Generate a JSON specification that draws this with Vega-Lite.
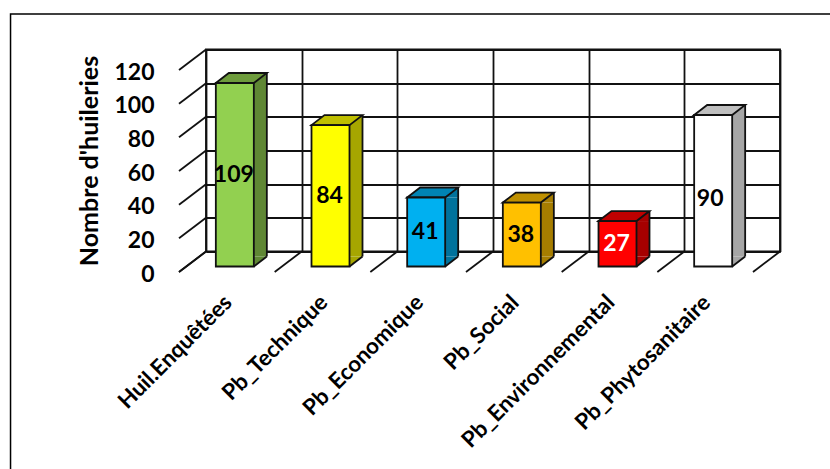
{
  "$schema": "https://vega.github.io/schema/vega-lite/v6.json",
  "autosize": {"type": "none"},
  "padding": {"left": 206, "top": 49.5, "right": 50, "bottom": 217.5},
  "width": 574,
  "height": 202,
  "background": "white",
  "config": {
    "view": {"stroke": "#111", "strokeWidth": 1.8},
    "font": "Lato"
  },
  "data": {
    "values": [
      {"cat": "Huil.Enquêtées", "n": 109},
      {"cat": "Pb_Technique", "n": 84},
      {"cat": "Pb_Economique", "n": 41},
      {"cat": "Pb_Social", "n": 38},
      {"cat": "Pb_Environnemental", "n": 27},
      {"cat": "Pb_Phytosanitaire", "n": 90}
    ]
  },
  "encoding": {
    "x": {
      "field": "cat",
      "type": "nominal",
      "sort": null,
      "title": null,
      "scale": {"paddingInner": 0, "paddingOuter": 0},
      "axis": {
        "tickBand": "extent",
        "grid": true,
        "gridColor": "#111",
        "gridWidth": 1.8,
        "ticks": false,
        "domain": false,
        "labelAngle": -45,
        "labelAlign": "right",
        "labelBaseline": "middle",
        "labelFont": "Lato",
        "labelFontWeight": "bold",
        "labelFontSize": 22.3,
        "labelColor": "#000",
        "labelPadding": 47,
        "labelOffset": -26,
        "labelLimit": 300,
        "labelOverlap": false
      }
    }
  },
  "layer": [
    {
      "encoding": {
        "y": {
          "field": "n",
          "type": "quantitative",
          "scale": {"domain": [0, 120], "nice": false},
          "title": "Nombre d'huileries",
          "axis": {
            "values": [0, 20, 40, 60, 80, 100, 120],
            "grid": true,
            "gridColor": "#111",
            "gridWidth": 1.8,
            "ticks": false,
            "domain": false,
            "labelFont": "Lato",
            "labelFontWeight": "bold",
            "labelFontSize": 23,
            "labelColor": "#000",
            "labelPadding": 52,
            "labelOffset": 22.5,
            "titleFont": "Lato",
            "titleFontWeight": "bold",
            "titleFontSize": 25,
            "titleColor": "#000",
            "titleX": -104,
            "titleY": 111
          }
        }
      },
      "layer": [
        {
          "description": "Outer chart frame, top and left edges only",
          "transform": [{"filter": "datum.cat === 'Huil.Enquêtées'"}],
          "mark": {"type": "point", "shape": "M-243.3 420 L-243.3 -35.5 L577 -35.5", "size": 4, "filled": false, "stroke": "#000", "strokeWidth": 1.5, "opacity": 1, "clip": false},
          "encoding": {"y": {"datum": 120}}
        },
        {
          "description": "Left wall diagonals, one per y tick",
          "data": {"values": [{"t": 0}, {"t": 20}, {"t": 40}, {"t": 60}, {"t": 80}, {"t": 100}, {"t": 120}]},
          "mark": {"type": "point", "shape": "M0 0 L-27 20.5", "size": 4, "filled": false, "stroke": "#111", "strokeWidth": 1.8, "opacity": 1, "clip": false, "xOffset": -47.83},
          "encoding": {"x": {"datum": "Huil.Enquêtées"}, "y": {"field": "t", "type": "quantitative"}}
        },
        {
          "description": "Floor diagonals at each category boundary",
          "mark": {"type": "point", "shape": "M0 0 L-27 20.5", "size": 4, "filled": false, "stroke": "#111", "strokeWidth": 1.8, "opacity": 1, "clip": false, "xOffset": -47.83},
          "encoding": {"y": {"datum": 0}}
        },
        {
          "transform": [{"filter": "datum.cat === 'Pb_Phytosanitaire'"}],
          "mark": {"type": "point", "shape": "M0 0 L-27 20.5", "size": 4, "filled": false, "stroke": "#111", "strokeWidth": 1.8, "opacity": 1, "clip": false, "xOffset": 47.83},
          "encoding": {"y": {"datum": 0}}
        },
        {
          "description": "Side face: body between the top and bottom wedges",
          "mark": {"type": "bar", "size": 13, "xOffset": 6.5, "yOffset": 15, "y2Offset": 5, "stroke": null},
          "encoding": {
            "y2": {"datum": 0},
            "fill": {"field": "cat", "type": "nominal", "legend": null, "scale": {"domain": ["Huil.Enquêtées", "Pb_Technique", "Pb_Economique", "Pb_Social", "Pb_Environnemental", "Pb_Phytosanitaire"], "range": ["#5F8734", "#A6A600", "#00729C", "#A67D00", "#A60000", "#A6A6A6"]}}
          }
        },
        {
          "description": "Side face: upper wedge",
          "mark": {"type": "point", "shape": "M19 0 L32 -10 L32 0 Z", "size": 4, "filled": true, "opacity": 1, "strokeWidth": 0, "xOffset": -19, "yOffset": 15},
          "encoding": {
            "fill": {"field": "cat", "type": "nominal", "legend": null, "scale": {"domain": ["Huil.Enquêtées", "Pb_Technique", "Pb_Economique", "Pb_Social", "Pb_Environnemental", "Pb_Phytosanitaire"], "range": ["#5F8734", "#A6A600", "#00729C", "#A67D00", "#A60000", "#A6A6A6"]}}
          }
        },
        {
          "description": "Side face: lower wedge",
          "mark": {"type": "point", "shape": "M19 0 L32 -10 L19 -10 Z", "size": 4, "filled": true, "opacity": 1, "strokeWidth": 0, "xOffset": -19, "yOffset": 15},
          "encoding": {
            "y": {"datum": 0},
            "fill": {"field": "cat", "type": "nominal", "legend": null, "scale": {"domain": ["Huil.Enquêtées", "Pb_Technique", "Pb_Economique", "Pb_Social", "Pb_Environnemental", "Pb_Phytosanitaire"], "range": ["#5F8734", "#A6A600", "#00729C", "#A67D00", "#A60000", "#A6A6A6"]}}
          }
        },
        {
          "description": "Side face outline: back vertical edge",
          "mark": {"type": "rule", "stroke": "#111", "strokeWidth": 1.8, "xOffset": 13, "yOffset": 5, "y2Offset": 5},
          "encoding": {"y2": {"datum": 0}}
        },
        {
          "description": "Side face outline: lower diagonal edge",
          "mark": {"type": "point", "shape": "M19 0 L32 -10", "size": 4, "filled": false, "stroke": "#111", "strokeWidth": 1.8, "opacity": 1, "xOffset": -19, "yOffset": 15},
          "encoding": {"y": {"datum": 0}}
        },
        {
          "description": "Top cap of each bar",
          "mark": {"type": "point", "shape": "M-19 0 L-6 -10 L32 -10 L19 0 Z", "size": 4, "filled": true, "opacity": 1, "stroke": "#111", "strokeWidth": 1.8, "xOffset": -19, "yOffset": 15},
          "encoding": {
            "fill": {"field": "cat", "type": "nominal", "legend": null, "scale": {"domain": ["Huil.Enquêtées", "Pb_Technique", "Pb_Economique", "Pb_Social", "Pb_Environnemental", "Pb_Phytosanitaire"], "range": ["#6E9C3C", "#BFBF00", "#0084B4", "#BF9000", "#BF0000", "#BFBFBF"]}}
          }
        },
        {
          "description": "Front face of each bar",
          "mark": {"type": "bar", "size": 38, "xOffset": -19, "yOffset": 15, "y2Offset": 15, "stroke": "#111", "strokeWidth": 1.8},
          "encoding": {
            "y2": {"datum": 0},
            "fill": {"field": "cat", "type": "nominal", "legend": null, "scale": {"domain": ["Huil.Enquêtées", "Pb_Technique", "Pb_Economique", "Pb_Social", "Pb_Environnemental", "Pb_Phytosanitaire"], "range": ["#92D050", "#FFFF00", "#00B0F0", "#FFC000", "#FF0000", "#FFFFFF"]}}
          }
        }
      ],
      "resolve": {"scale": {"fill": "independent"}}
    },
    {
      "description": "Value labels at half bar height: the doubled domain puts n at n/2 of the main scale",
      "encoding": {
        "y": {"field": "n", "type": "quantitative", "scale": {"domain": [0, 240], "nice": false}, "axis": null},
        "text": {"field": "n", "type": "quantitative"},
        "color": {"condition": {"test": "datum.n === 27", "value": "#FFFFFF"}, "value": "#000000"}
      },
      "layer": [
        {
          "transform": [{"filter": "datum.n !== 90"}],
          "mark": {"type": "text", "font": "Lato", "fontWeight": "bold", "fontSize": 23, "baseline": "middle", "align": "center", "xOffset": -20, "yOffset": 15}
        },
        {
          "transform": [{"filter": "datum.n === 90"}],
          "mark": {"type": "text", "font": "Lato", "fontWeight": "bold", "fontSize": 23, "baseline": "middle", "align": "center", "xOffset": -22, "yOffset": 23}
        }
      ]
    }
  ],
  "resolve": {"scale": {"y": "independent"}}
}
